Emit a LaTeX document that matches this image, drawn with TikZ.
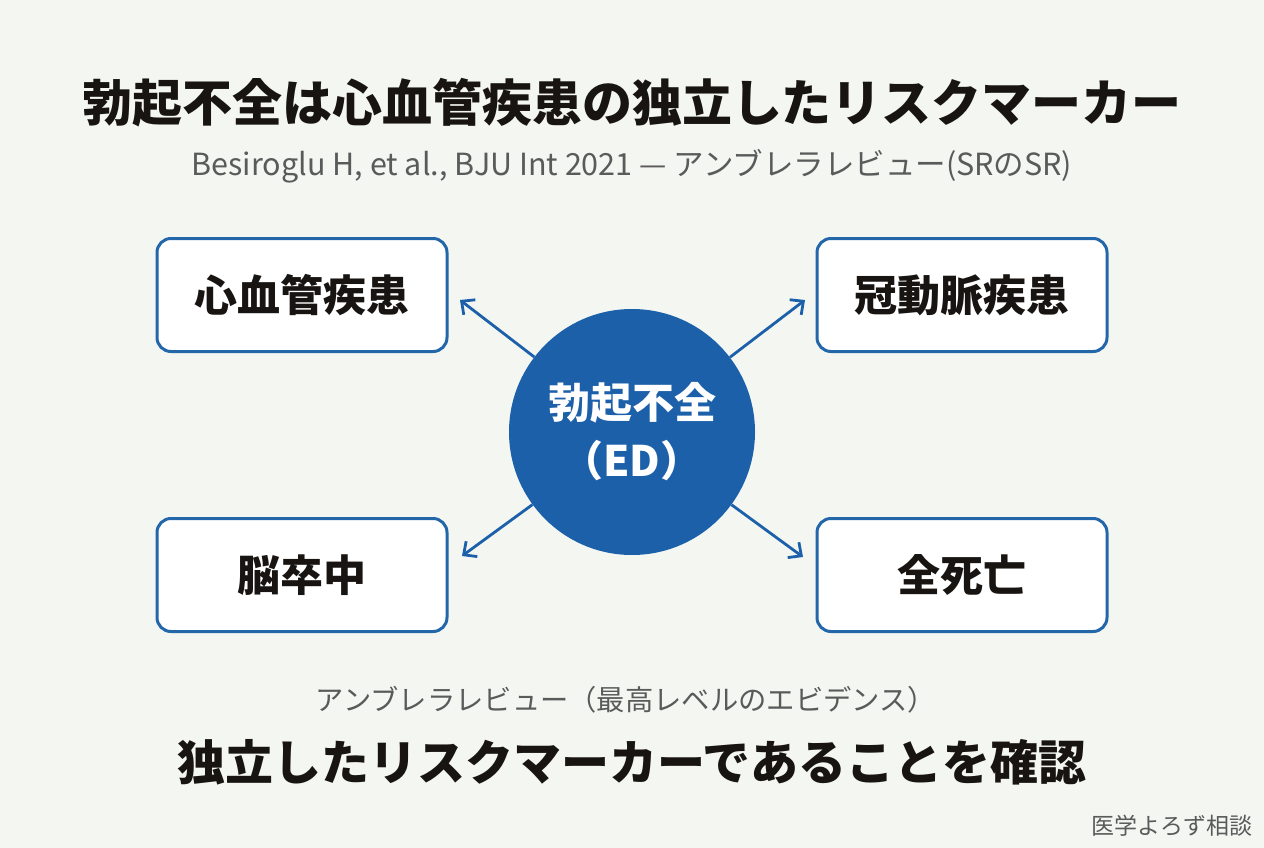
\documentclass[tikz,border=0pt]{standalone}
\usepackage{fontspec}
\setmainfont{Noto Sans CJK JP}
\usetikzlibrary{arrows.meta}
\definecolor{bg}{RGB}{244,246,242}
\definecolor{edblue}{RGB}{28,96,170}
\definecolor{boxblue}{RGB}{36,102,170}
\definecolor{ink}{RGB}{24,20,18}
\definecolor{subgray}{RGB}{90,90,90}
\tikzset{
  riskbox/.style={draw=boxblue, line width=3pt, fill=white, rounded corners=14pt,
    minimum width=290pt, minimum height=113pt, inner sep=0pt,
    font=\fontsize{43}{50}\selectfont\bfseries, text=ink},
  edcircle/.style={circle, fill=edblue, minimum size=246pt, inner sep=0pt,
    text=white, font=\fontsize{42}{58}\selectfont\bfseries, align=center},
  riskarrow/.style={draw=edblue, line width=2.8pt, -{Straight Barb[length=10pt,width=19pt,line width=2.8pt]}},
}
\begin{document}
\begin{tikzpicture}[x=1pt,y=-1pt]
\path[fill=bg] (0,0) rectangle (1264,848);
\useasboundingbox (0,0) rectangle (1264,848);

\node[font=\fontsize{50}{60}\selectfont\bfseries, text=ink] (title) at (632,103) {勃起不全は心血管疾患の独立したリスクマーカー};
\node[font=\fontsize{30.5}{36}\selectfont, text=subgray] (sub) at (632,166) {Besiroglu H, et al., BJU Int 2021 — アンブレラレビュー(SRのSR)};

\node[riskbox] (cvd) at (302,295) {心血管疾患};
\node[riskbox] (cad) at (962,295) {冠動脈疾患};
\node[riskbox] (stroke) at (302,575) {脳卒中};
\node[riskbox] (death) at (962,575) {全死亡};

\node[edcircle] (ed) at (632,432) {勃起不全\\（ED）};

\coordinate (a1) at (460,300);
\coordinate (a2) at (805,300);
\coordinate (a3) at (462,556);
\coordinate (a4) at (803,557);
\draw[riskarrow] (ed) -- (a1);
\draw[riskarrow] (ed) -- (a2);
\draw[riskarrow] (ed) -- (a3);
\draw[riskarrow] (ed) -- (a4);

\node[font=\fontsize{28.3}{34}\selectfont, text=subgray] (umb) at (626,700) {アンブレラレビュー（最高レベルのエビデンス）};
\node[font=\fontsize{48}{58}\selectfont\bfseries, text=ink] (concl) at (632,762) {独立したリスクマーカーであることを確認};
\node[font=\fontsize{23}{28}\selectfont, text=subgray, anchor=east] (wm) at (1256,826) {医学よろず相談};
\end{tikzpicture}
\end{document}
